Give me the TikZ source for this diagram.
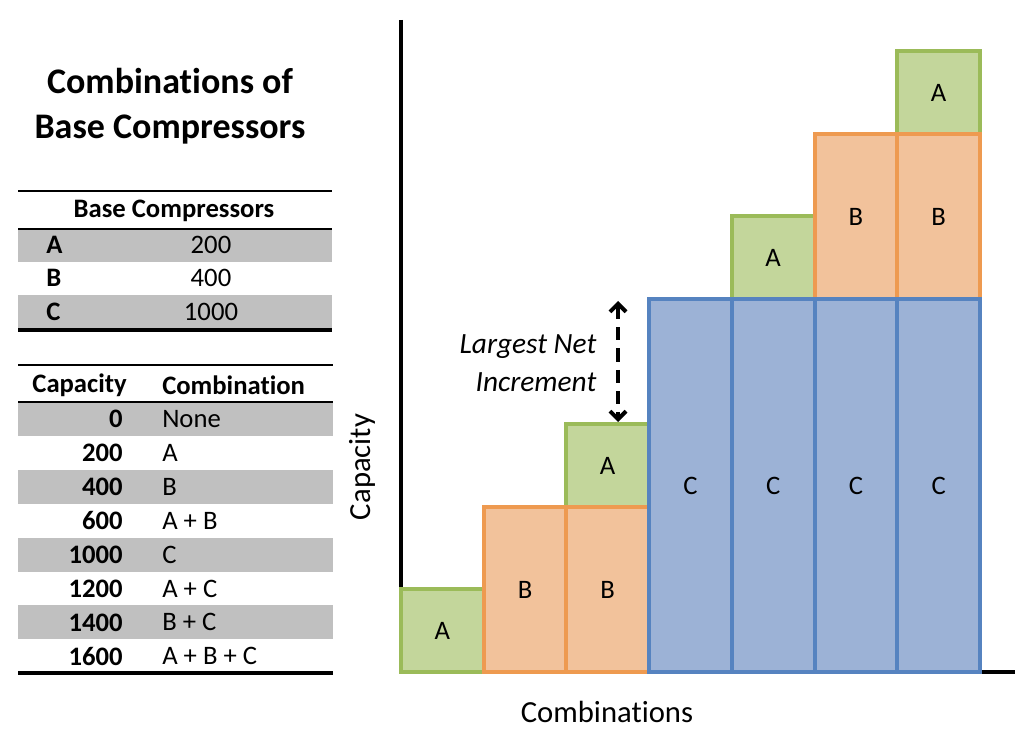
\documentclass[tikz,border=0pt]{standalone}
\usepackage{fontspec}
\setmainfont{Carlito}[Ligatures=NoCommon]
\usetikzlibrary{arrows.meta, positioning}

\definecolor{agreen}{HTML}{C3D69B}
\definecolor{agreenline}{HTML}{9BBB59}
\definecolor{borange}{HTML}{F2C29B}
\definecolor{borangeline}{HTML}{EE9A50}
\definecolor{cblue}{HTML}{9CB2D6}
\definecolor{cblueline}{HTML}{5683C0}
\definecolor{rowgray}{HTML}{C0C0C0}

\tikzset{
    tabtext/.style={font=\fontsize{20}{24}\selectfont, inner sep=0pt},
    tabbold/.style={tabtext, font=\fontsize{20}{24}\selectfont\bfseries},
    bar/.style={draw, line width=3pt, minimum width=62pt, inner sep=0pt, font=\fontsize{20}{24}\selectfont},
    abox/.style={bar, fill=agreen, draw=agreenline, minimum height=62.25pt},
    bbox/.style={bar, fill=borange, draw=borangeline, minimum height=123.75pt},
    cbox/.style={bar, fill=cblue, draw=cblueline, minimum height=279.75pt},
}

\begin{document}
\begin{tikzpicture}[x=0.75pt, y=-0.75pt]
    \useasboundingbox (0,0) rectangle (1024,730);

    % Title
    \node[font=\fontsize{27}{33.75}\selectfont\bfseries, align=center] (title) at (170,106) {Combinations of\\Base Compressors};

    % Base compressor table
    \fill[rowgray] (18,229) rectangle (332,262);
    \fill[rowgray] (18,295) rectangle (332,329);
    \draw[line width=1.8pt] (18,191) -- (332,191);
    \draw[line width=1.8pt] (18,229) -- (332,229);
    \draw[line width=2.6pt] (18,330) -- (332,330);
    \node[tabbold] (basehead) at (174,211) {Base Compressors};
    \foreach \nm/\val/\y in {A/200/245, B/400/278, C/1000/312}{
        \node[tabbold, anchor=west] (name\nm) at (46,\y) {\nm};
        \node[tabtext] (val\nm) at (211,\y) {\val};
    }

    % Combination table
    \foreach \k in {0,2,4,6}
        \fill[rowgray] (18,{402+33.9*\k}) rectangle (333,{402+33.9*(\k+1)});
    \draw[line width=1.8pt] (18,365) -- (333,365);
    \draw[line width=1.8pt] (18,402) -- (333,402);
    \draw[line width=2.6pt] (18,673) -- (333,673);
    \node[tabbold, anchor=east] (caphead) at (127,385) {Capacity};
    \node[tabbold, anchor=west] (combhead) at (162,385) {Combination};
    \foreach \cp/\cb [count=\i] in {0/None, 200/A, 400/B, 600/A + B, 1000/C, 1200/A + C, 1400/B + C, 1600/A + B + C}{
        \node[tabbold, anchor=east] (cap\i) at (123,{402+33.9*(\i-0.5)}) {\cp};
        \node[tabtext, anchor=west] (comb\i) at (162,{402+33.9*(\i-0.5)}) {\cb};
    }

    % Axes
    \draw[line width=3pt] (401,20) -- (401,672) -- (1015,672);
    \node[rotate=90, font=\fontsize{23}{28}\selectfont] (ylabel) at (362,467) {Capacity};
    \node[font=\fontsize{23}{28}\selectfont] (xlabel) at (607,712) {Combinations};

    % Bars
    \node[abox] (a1) at (442.4,630.5) {A};
    \node[abox] (a3) at (607.7,465.5) {A};
    \node[abox] (a5) at (773.2,257.5) {A};
    \node[abox] (a7) at (938.6,92.5) {A};
    \node[bbox] (b2) at (525,589.5) {B};
    \node[bbox] (b3) at (607.7,589.5) {B};
    \node[bbox] (b6) at (855.9,216.5) {B};
    \node[bbox] (b7) at (938.6,216.5) {B};
    \node[cbox] (c4) at (690.5,485.5) {C};
    \node[cbox] (c5) at (773.2,485.5) {C};
    \node[cbox] (c6) at (855.9,485.5) {C};
    \node[cbox] (c7) at (938.6,485.5) {C};

    % Largest net increment
    \coordinate (inctop) at (618,301);
    \draw[line width=3pt, dash pattern=on 10pt off 6pt, {Straight Barb[length=6pt,width=12pt]}-{Straight Barb[length=6pt,width=12pt]}] (inctop) -- (a3.north -| inctop);
    \node[font=\fontsize{22}{28.5}\selectfont\itshape, align=right, anchor=east] (inclabel) at (601,363) {Largest Net\\Increment};

\end{tikzpicture}
\end{document}
